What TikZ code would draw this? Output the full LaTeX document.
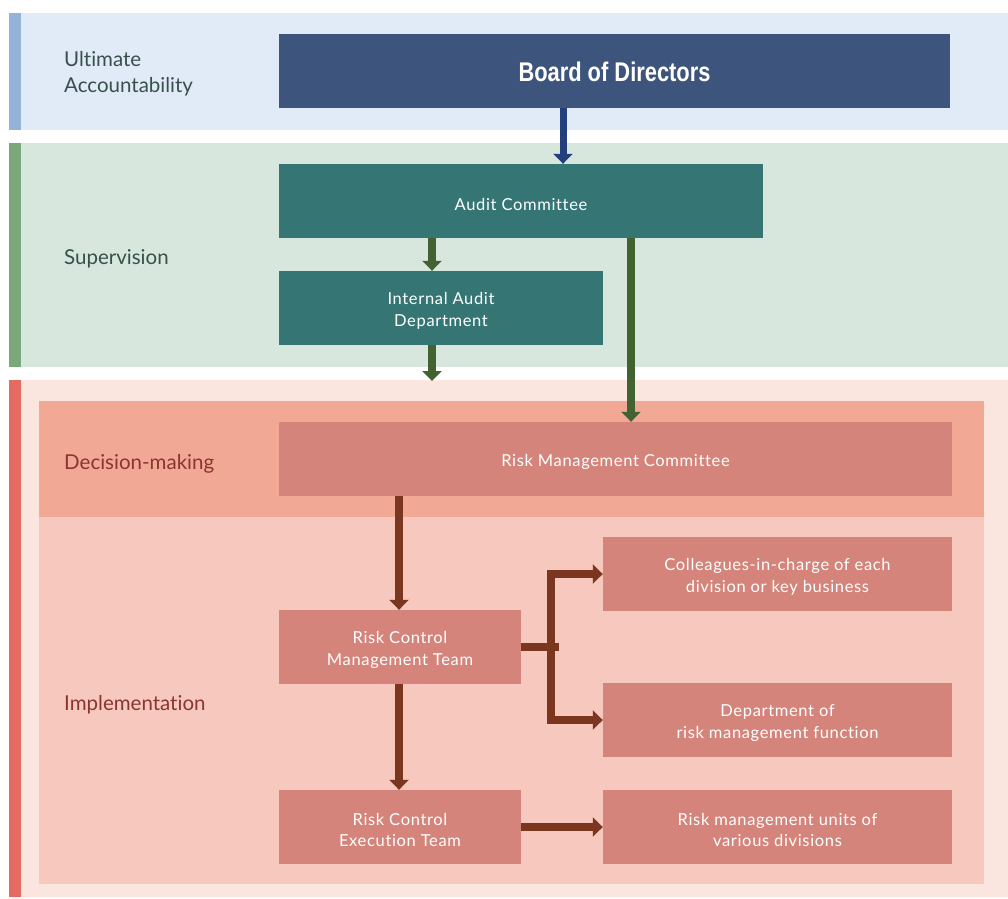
\documentclass[tikz,border=0pt]{standalone}
\usepackage{fontspec}
\setmainfont{Lato}[Ligatures=NoCommon]
\newfontfamily\boxfont{Lato}[LetterSpace=4,Ligatures=NoCommon]
\newfontfamily\boardfont{Liberation Sans}
\usetikzlibrary{arrows.meta}
\definecolor{bandA}{HTML}{E1EBF7}
\definecolor{stripeA}{HTML}{95B3D7}
\definecolor{boardc}{HTML}{3D557D}
\definecolor{bluearr}{HTML}{233F7C}
\definecolor{bandB}{HTML}{D8E7DD}
\definecolor{stripeB}{HTML}{7BA87B}
\definecolor{tealc}{HTML}{357675}
\definecolor{greenarr}{HTML}{426331}
\definecolor{bandC}{HTML}{FAE5DF}
\definecolor{stripeC}{HTML}{E36B62}
\definecolor{decband}{HTML}{F1A895}
\definecolor{impband}{HTML}{F6C8BE}
\definecolor{redbox}{HTML}{D4847A}
\definecolor{brownarr}{HTML}{7B3620}
\definecolor{labtop}{HTML}{37504C}
\definecolor{labbot}{HTML}{8A3530}
\tikzset{
  lbl/.style={anchor=west,align=left,font=\fontsize{20.5}{26}\selectfont,inner sep=0pt},
  boxtext/.style={inner sep=0pt,align=center,text=white,font=\boxfont\fontsize{16.5}{21.5}\selectfont,yshift=-3pt},
  boxbase/.style={rectangle,inner sep=0pt},
  tealbox/.style={boxbase,fill=tealc},
  redbox/.style={boxbase,fill=redbox},
  arrbase/.style={line width=7.5pt,line cap=butt,line join=miter,-{Triangle[width=19pt,length=10pt]}},
  bluearrow/.style={arrbase,draw=bluearr,line width=7pt},
  greenarrow/.style={arrbase,draw=greenarr},
  brownarrow/.style={arrbase,draw=brownarr},
}
\begin{document}
\begin{tikzpicture}[x=1pt,y=-1pt]
\useasboundingbox (0,0) rectangle (1008,898);
% bands
\fill[bandA] (9,13) rectangle (1008,130);
\fill[stripeA] (9,13) rectangle (21,130);
\fill[bandB] (9,143) rectangle (1008,367);
\fill[stripeB] (9,143) rectangle (21,367);
\fill[bandC] (9,380) rectangle (1008,897);
\fill[stripeC] (9,380) rectangle (21,897);
\fill[decband] (39,401) rectangle (984,517);
\fill[impband] (39,517) rectangle (984,884);
% labels
\node[lbl,text=labtop] (lultimate) at (64,74) {Ultimate\\Accountability};
\node[lbl,text=labtop] (lsuper) at (64,259) {Supervision};
\node[lbl,text=labbot] (ldec) at (64,464) {Decision-making};
\node[lbl,text=labbot] (limp) at (64,705) {Implementation};
% boxes
\node[boxbase,fill=boardc,minimum width=671pt,minimum height=74pt,
  label={[boxtext,yshift=2.5pt,font=\boardfont\bfseries\fontsize{27}{30}\selectfont]center:\scalebox{0.81}[1]{Board of Directors}}] (board) at (614.5,71) {};
\node[tealbox,minimum width=484pt,minimum height=74pt,label={[boxtext]center:Audit Committee}] (audit) at (521,201) {};
\node[tealbox,minimum width=324pt,minimum height=74pt,label={[boxtext]center:{Internal Audit\\Department}}] (iad) at (441,308) {};
\node[redbox,minimum width=673pt,minimum height=74pt,label={[boxtext]center:Risk Management Committee}] (rmc) at (615.5,459) {};
\node[redbox,minimum width=242pt,minimum height=74pt,label={[boxtext]center:{Risk Control\\Management Team}}] (rcmt) at (400,647) {};
\node[redbox,minimum width=242pt,minimum height=74pt,label={[boxtext]center:{Risk Control\\Execution Team}}] (rcet) at (400,827) {};
\node[redbox,minimum width=349pt,minimum height=74pt,label={[boxtext]center:{Colleagues-in-charge of each\\division or key business}}] (coll) at (777.5,574) {};
\node[redbox,minimum width=349pt,minimum height=74pt,label={[boxtext]center:{Department of\\risk management function}}] (dept) at (777.5,720) {};
\node[redbox,minimum width=349pt,minimum height=74pt,label={[boxtext]center:{Risk management units of\\various divisions}}] (units) at (777.5,827) {};
% connectors
\coordinate (bstart) at (563,108);
\draw[bluearrow] (bstart) -- (bstart |- audit.north);
\coordinate (g1) at (432,238);
\draw[greenarrow] (g1) -- (g1 |- iad.north);
\coordinate (g2) at (432,345);
\coordinate (g2end) at (432,381);
\draw[greenarrow] (g2) -- (g2end);
\coordinate (g3) at (631,238);
\draw[greenarrow] (g3) -- (g3 |- rmc.north);
\coordinate (b1) at (399,496);
\draw[brownarrow] (b1) -- (b1 |- rcmt.north);
\coordinate (b2) at (399,684);
\draw[brownarrow] (b2) -- (b2 |- rcet.north);
\coordinate (fork) at (551,647);
\draw[brownarr,line width=7.5pt] (rcmt.east) -- ([xshift=8pt]fork);
\draw[brownarrow] (fork) |- (coll.west);
\draw[brownarrow] (fork) |- (dept.west);
\draw[brownarrow] (rcet.east) -- (units.west);
\end{tikzpicture}
\end{document}
